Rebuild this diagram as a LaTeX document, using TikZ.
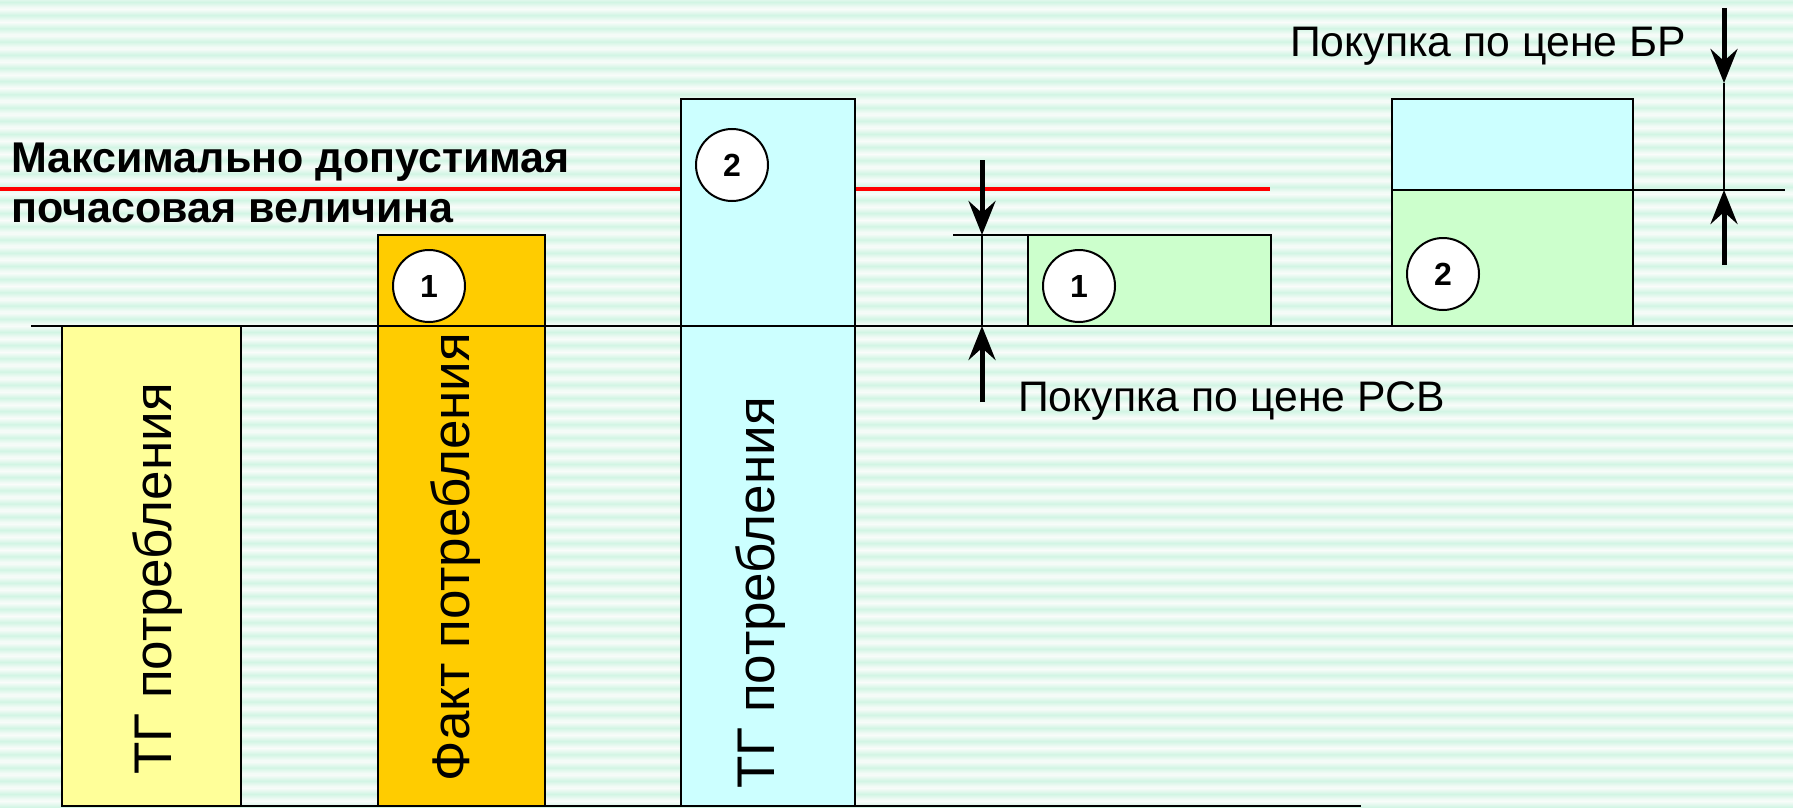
\documentclass[tikz,border=0pt]{standalone}
\usepackage{fontspec}
\setmainfont{Liberation Sans}
\usetikzlibrary{arrows.meta}
\definecolor{bgA}{HTML}{F4FBF7}
\definecolor{bgB}{HTML}{D2F5E4}
\definecolor{yelc}{HTML}{FFFF99}
\definecolor{orac}{HTML}{FFCC00}
\definecolor{cyac}{HTML}{CCFFFF}
\definecolor{grnc}{HTML}{CCFFCC}
\tikzset{
  box/.style={draw=black, line width=2pt, inner sep=0pt, outer sep=0pt, anchor=north west},
  circ/.style={circle, draw=black, fill=white, line width=2pt, minimum size=72pt, inner sep=0pt,
    font=\bfseries\fontsize{32}{38}\selectfont},
  vtext/.style={rotate=90, anchor=base, inner sep=0pt, font=\fontsize{53}{63}\selectfont},
  lbl/.style={anchor=base west, inner sep=0pt, font=\fontsize{42.7}{50}\selectfont},
  blbl/.style={anchor=base west, inner sep=0pt, font=\bfseries\fontsize{43}{50}\selectfont},
  thin/.style={line width=2pt},
  dimarrow/.style={line width=5pt, -{Stealth[length=34pt,width=27pt,inset=12pt]}},
  maxline/.style={line width=4.5pt, red}
}
\begin{document}
\begin{tikzpicture}[x=1pt,y=-1pt]
\useasboundingbox (0,0) rectangle (1793,808);
% background stripes
\fill[bgA] (0,0) rectangle (1793,808);
\foreach \k in {0,...,61} {
  \shade[top color=bgA, bottom color=bgA, middle color=bgB]
    (0,{13.2*\k-3.5}) rectangle (1793,{13.2*\k+7.5});
}
% maximum line
\coordinate (r0) at (0,189);
\coordinate (r1) at (1270,189);
\draw[maxline] (r0) -- (r1);
% boxes
\node[box, fill=yelc, minimum width=179pt, minimum height=480pt] (tg1) at (62,326) {};
\node[box, fill=orac, minimum width=167pt, minimum height=571pt] (fact) at (378,235) {};
\node[box, fill=cyac, minimum width=174pt, minimum height=707pt] (tg2) at (681,99) {};
\node[box, fill=grnc, minimum width=243pt, minimum height=91pt] (g1) at (1028,235) {};
\node[box, fill=cyac, minimum width=241pt, minimum height=91pt] (c2) at (1392,99) {};
\node[box, fill=grnc, minimum width=241pt, minimum height=136pt] (g2) at (1392,190) {};
% base lines
\coordinate (b0) at (31,326);
\coordinate (b1) at (1793,326);
\draw[thin] (b0) -- (b1);
\coordinate (f0) at (62,806);
\coordinate (f1) at (1361,806);
\draw[thin] (f0) -- (f1);
% circles
\node[circ] (n1a) at (429,286) {1};
\node[circ] (n2a) at (732,165) {2};
\node[circ] (n1b) at (1079,286) {1};
\node[circ] (n2b) at (1443,274) {2};
% vertical texts
\node[vtext] (t1) at (171,579) {ТГ потребления};
\node[vtext] (t2) at (469,557) {Факт потребления};
\node[vtext] (t3) at (774,593) {ТГ потребления};
% labels
\node[blbl] (max1) at (11,172) {Максимально допустимая};
\node[blbl] (max2) at (11,222) {почасовая величина};
\node[lbl] (rsv) at (1018,411) {Покупка по цене РСВ};
\node[lbl] (br) at (1290,57) {Покупка по цене БР};
% middle dimension
\coordinate (h0) at (953,235);
\coordinate (m0) at (982,160);
\coordinate (m1) at (982,235);
\coordinate (m2) at (982,326);
\coordinate (m3) at (982,402);
\draw[thin] (h0) -- (g1.north west);
\draw[thin] (m1) -- (m2);
\draw[dimarrow] (m0) -- (m1);
\draw[dimarrow] (m3) -- (m2);
% right dimension
\coordinate (k0) at (1724,8);
\coordinate (k1) at (1724,83);
\coordinate (k2) at (1724,190);
\coordinate (k3) at (1724,265);
\coordinate (h1) at (1785,190);
\draw[thin] (g2.north east) -- (h1);
\draw[thin] (k1) -- (k2);
\draw[dimarrow] (k0) -- (k1);
\draw[dimarrow] (k3) -- (k2);
\end{tikzpicture}
\end{document}
